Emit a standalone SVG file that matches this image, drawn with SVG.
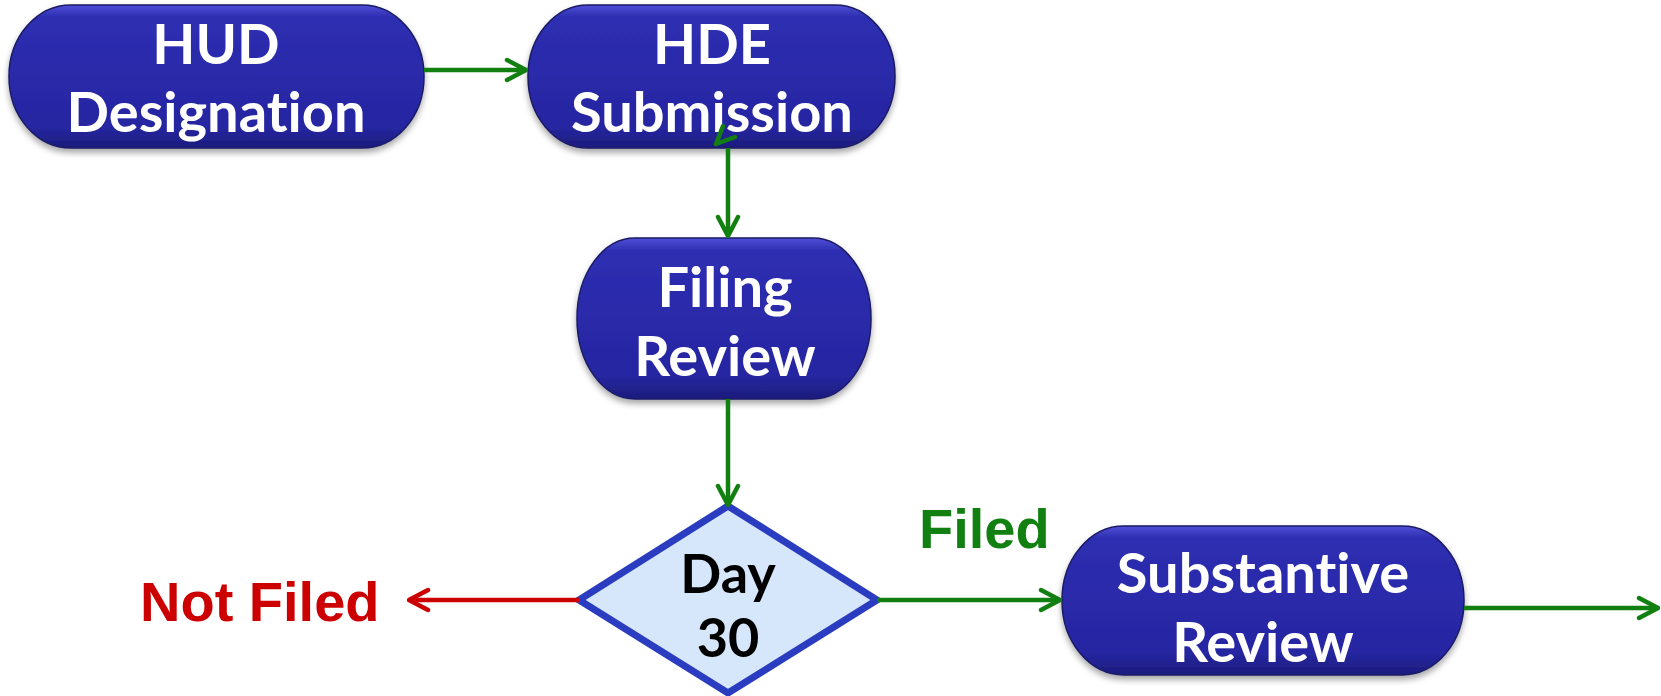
<svg xmlns="http://www.w3.org/2000/svg" width="1661" height="696" viewBox="0 0 1661 696">
<style>
.node{fill:url(#blueGrad);stroke:#1a1a66;stroke-width:1.5;filter:url(#shadow)}
.lbl{font-family:Lato,"Open Sans","Liberation Sans",sans-serif;font-weight:bold;font-size:56px;fill:#ffffff;text-anchor:middle;font-variant-ligatures:none;font-feature-settings:"liga" 0,"clig" 0}
.dlbl{font-family:Lato,"Open Sans","Liberation Sans",sans-serif;font-weight:bold;font-size:54px;fill:#000000;text-anchor:middle}
.g{stroke:#118011;stroke-width:4.5;fill:none}
.r{stroke:#cc0000;stroke-width:4.5;fill:none}
.elbl{font-family:"Liberation Sans",Arial,sans-serif;font-weight:bold;font-size:56px}
</style>
<defs>
<linearGradient id="blueGrad" x1="0" y1="0" x2="0" y2="1">
<stop offset="0" stop-color="#5050d8"/>
<stop offset="0.08" stop-color="#2e2eb2"/>
<stop offset="0.85" stop-color="#2626a2"/>
<stop offset="1" stop-color="#1c1c7c"/>
</linearGradient>
<filter id="shadow" x="-10%" y="-10%" width="120%" height="130%">
<feDropShadow dx="0" dy="4" stdDeviation="3" flood-color="#000" flood-opacity="0.35"/>
</filter>
<marker id="ag" viewBox="0 0 24 26" refX="22" refY="13" markerWidth="24" markerHeight="26" markerUnits="userSpaceOnUse" orient="auto">
<path d="M3,3 L22,13 L3,23" fill="none" stroke="#118011" stroke-width="4.5" stroke-linecap="round" stroke-linejoin="round"/>
</marker>
<marker id="ar" viewBox="0 0 24 26" refX="22" refY="13" markerWidth="24" markerHeight="26" markerUnits="userSpaceOnUse" orient="auto">
<path d="M3,3 L22,13 L3,23" fill="none" stroke="#cc0000" stroke-width="4.5" stroke-linecap="round" stroke-linejoin="round"/>
</marker>
</defs>
<rect width="1661" height="696" fill="#ffffff"/>

<g id="hud">
<rect class="node" x="9" y="5" width="415" height="143" rx="62" ry="71"/>
<text class="lbl" x="216" y="64">HUD</text>
<text class="lbl" x="216" y="132">Designation</text>
</g>
<g id="hde">
<rect class="node" x="528" y="5" width="367" height="143" rx="60" ry="71"/>
<text class="lbl" x="712" y="64">HDE</text>
<text class="lbl" x="712" y="132">Submission</text>
</g>
<g id="filing">
<rect class="node" x="577" y="238" width="294" height="161" rx="58" ry="80"/>
<text class="lbl" x="725" y="307">Filing</text>
<text class="lbl" x="725" y="376">Review</text>
</g>
<g id="day30">
<polygon points="728,506 877,600 728,693 579,600" fill="#d6e7fb" stroke="#2a3cbf" stroke-width="7" stroke-linejoin="miter"/>
<text class="dlbl" x="728" y="593">Day</text>
<text class="dlbl" x="728" y="657">30</text>
</g>
<g id="substantive">
<rect class="node" x="1062" y="526" width="402" height="149" rx="62" ry="74"/>
<text class="lbl" x="1263" y="593">Substantive</text>
<text class="lbl" x="1263" y="662">Review</text>
</g>

<g id="connectors">
<line class="g" x1="424" y1="70" x2="526" y2="70" marker-end="url(#ag)"/>
<line class="g" x1="728" y1="148" x2="728" y2="236" marker-end="url(#ag)"/>
<path class="g" d="M735,137 L716,144 L723,126" stroke-linecap="round" stroke-linejoin="round"/>
<line class="g" x1="728" y1="399" x2="728" y2="505" marker-end="url(#ag)"/>
<line class="r" x1="579" y1="600" x2="409" y2="600" marker-end="url(#ar)"/>
<line class="g" x1="877" y1="600" x2="1060" y2="600" marker-end="url(#ag)"/>
<line class="g" x1="1464" y1="608" x2="1658" y2="608" marker-end="url(#ag)"/>
<text class="elbl" x="140" y="621" fill="#cc0000">Not Filed</text>
<text class="elbl" x="919" y="548" fill="#118011">Filed</text>
</g>
</svg>
